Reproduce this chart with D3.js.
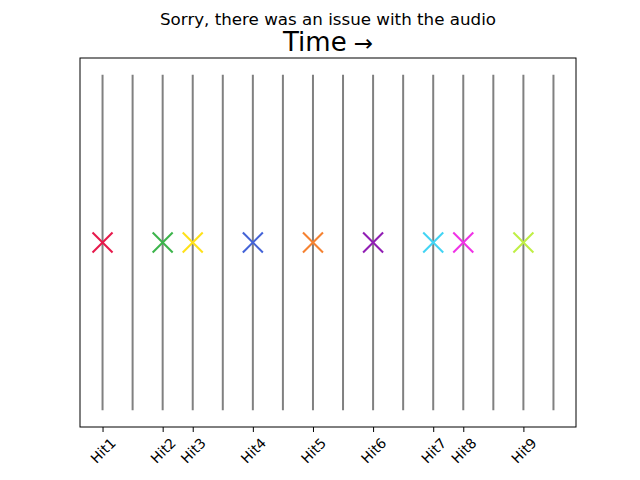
<!DOCTYPE html>
<html>
<head>
<meta charset="utf-8">
<script src="https://cdn.jsdelivr.net/npm/d3@7"></script>
<style>
  html, body { margin: 0; padding: 0; background: #fff; }
  text { font-family: "DejaVu Sans", sans-serif; }
</style>
</head>
<body>
<div id="chart"></div>
<script>
// ---- data ----
const beatPositions = [0, 1, 2, 3, 4, 5, 6, 7, 8, 9, 10, 11, 12, 13, 14, 15];
const hitLabels = ["Hit1", "Hit2", "Hit3", "Hit4", "Hit5", "Hit6", "Hit7", "Hit8", "Hit9"];
const hitPositions = [0, 2, 3, 5, 7, 9, 11, 12, 14];
const hitLevel = [0.5, 0.5, 0.5, 0.5, 0.5, 0.5, 0.5, 0.5, 0.5];
const hitColors = ["#e6194b", "#3cb44b", "#ffe119", "#4363d8", "#f58231", "#911eb4", "#42d4f4", "#f032e6", "#bfef45"];
const suptitleText = "Sorry, there was an issue with the audio";
const titleWord = "Time";
const titleArrow = "\u2192";

const W = 640, H = 480;
const m = { left: 80, right: 576, top: 58, bottom: 427 };

const svg = d3.select("#chart").append("svg")
  .attr("width", W).attr("height", H);

const xMin = d3.min(beatPositions), xMax = d3.max(beatPositions);
const xPad = (xMax - xMin) * 0.05;
const x = d3.scaleLinear().domain([xMin - xPad, xMax + xPad]).range([m.left, m.right]);
const y = d3.scaleLinear().domain([-0.05, 1.05]).range([m.bottom, m.top]);

// vertical beat lines
svg.append("g").selectAll("line").data(beatPositions).join("line")
  .attr("x1", d => x(d)).attr("x2", d => x(d))
  .attr("y1", y(0)).attr("y2", y(1))
  .attr("stroke", "#808080").attr("stroke-width", 2);

// hit markers (x)
const ms = 10;
const mk = svg.append("g").selectAll("g").data(hitPositions).join("g")
  .attr("transform", (d, i) => `translate(${x(d)},${y(hitLevel[i])})`);
mk.append("line").attr("x1", -ms).attr("y1", -ms).attr("x2", ms).attr("y2", ms)
  .attr("stroke", (d, i) => hitColors[i]).attr("stroke-width", 2);
mk.append("line").attr("x1", -ms).attr("y1", ms).attr("x2", ms).attr("y2", -ms)
  .attr("stroke", (d, i) => hitColors[i]).attr("stroke-width", 2);

// frame
svg.append("rect")
  .attr("x", m.left).attr("y", m.top)
  .attr("width", m.right - m.left).attr("height", m.bottom - m.top)
  .attr("fill", "none").attr("stroke", "#000").attr("stroke-width", 1);

// x axis
const xAxis = d3.axisBottom(x).tickValues(hitPositions)
  .tickFormat((d, i) => hitLabels[i]).tickSize(5).tickPadding(0);
const gx = svg.append("g").attr("transform", `translate(0,${m.bottom})`).call(xAxis);
gx.select(".domain").remove();
gx.selectAll(".tick line").attr("stroke", "#000").attr("stroke-width", 1);
gx.selectAll(".tick text").each(function() {
  const t = d3.select(this);
  t.attr("font-size", "13.9px").attr("font-family", "DejaVu Sans, sans-serif")
   .attr("fill", "#000").attr("text-anchor", "middle").attr("dy", null)
   .attr("dominant-baseline", "central");
  const w = this.getComputedTextLength();
  const h = 14;
  const bh = (w + h) * Math.SQRT1_2;
  t.attr("y", null).attr("transform", `translate(0,${8.5 + bh / 2}) rotate(-45)`);
});

// titles
const cx = (m.left + m.right) / 2;
svg.append("text").attr("x", cx).attr("y", 25).attr("text-anchor", "middle")
  .attr("font-size", "16.7px").attr("fill", "#000").text(suptitleText);
const tt = svg.append("text").attr("x", cx).attr("y", 51).attr("text-anchor", "middle")
  .attr("font-size", "26px").attr("fill", "#000");
tt.append("tspan").text(titleWord);
tt.append("tspan").attr("dx", 7).attr("font-size", "23px").text(titleArrow);
</script>
</body>
</html>
